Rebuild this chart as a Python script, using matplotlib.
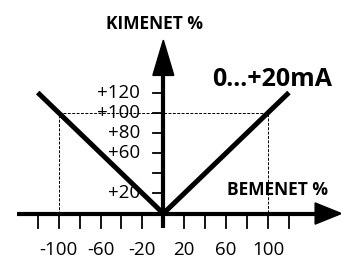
import matplotlib
matplotlib.use("Agg")
import matplotlib.pyplot as plt
from matplotlib.patches import Polygon

# data
v_x = [-120, 0, 120]
v_y = [120, 0, 120]
x_ticks = [-120, -100, -80, -60, -40, -20, 20, 40, 60, 80, 100, 120]
x_labels = [-100, -60, -20, 20, 60, 100]
y_ticks = [20, 40, 60, 80, 100, 120]
y_labels = {120: "+120", 100: "+100", 80: "+80", 60: "+60", 20: "+20"}
ref_level = 100

FONT = "Open Sans"

fig = plt.figure(figsize=(3.41, 2.60), dpi=100)
ax = fig.add_axes([0, 0, 1, 1])
ax.set_xlim(-156, 169.7)
ax.set_ylim(-46.1, 211.8)
ax.axis("off")

lw_axis = 3.0
# x axis
ax.plot([-140, 147], [0, 0], color="black", lw=lw_axis, solid_capstyle="butt", zorder=3)
ax.add_patch(Polygon([[145, 10.5], [145, -10.5], [170, 0]], closed=True, color="black", zorder=3))
# y axis
ax.plot([0, 0], [-14, 140], color="black", lw=lw_axis, solid_capstyle="butt", zorder=3)
ax.add_patch(Polygon([[-10, 137], [10, 137], [0, 172]], closed=True, color="black", zorder=3))

# x ticks
for t in x_ticks:
    ax.plot([t, t], [0, -14], color="black", lw=1.3, zorder=2)
for t in x_labels:
    ax.text(t, -36, f"{t}", ha="center", va="center", fontsize=13.5, family=FONT)

# y ticks
for t in y_ticks:
    ax.plot([-10, 0], [t, t], color="black", lw=1.3, zorder=2)
for t, s in y_labels.items():
    ax.text(-22, t, s, ha="right", va="center", fontsize=13.5, family=FONT)

# dashed reference
ax.plot([-ref_level, -ref_level, ref_level, ref_level], [0, ref_level, ref_level, 0],
        color="black", lw=0.7, ls=(0, (3, 1.5)), zorder=1)

# V line
ax.plot(v_x, v_y, color="black", lw=3.6, solid_capstyle="butt", solid_joinstyle="miter", zorder=4)

ax.text(-8, 187.5, "KIMENET %", ha="center", va="center", fontsize=12.5, fontweight="bold", family=FONT)
ax.text(47, 133, "0...+20mA", ha="left", va="center", fontsize=18, fontweight="bold", family=FONT)
ax.text(61, 23, "BEMENET %", ha="left", va="center", fontsize=12.5, fontweight="bold", family=FONT)

fig.savefig("out.png", dpi=100)
